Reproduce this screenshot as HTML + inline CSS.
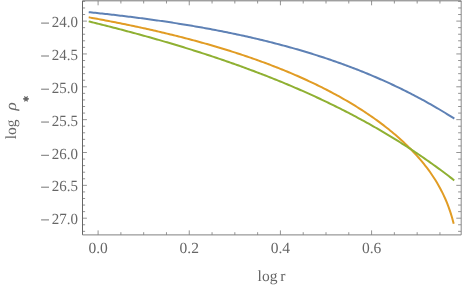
<!DOCTYPE html>
<html><head><meta charset="utf-8"><style>
html,body{margin:0;padding:0;background:#fff;}
svg{display:block}
text{font-family:"Liberation Serif",serif;font-size:15.5px;fill:#666;text-rendering:geometricPrecision}
</style></head><body>
<svg width="463" height="287" viewBox="0 0 463 287">
<rect width="463" height="287" fill="#fff"/>
<g fill="none" stroke-width="2" stroke-linejoin="round">
<path stroke="#5e81b5" d="M88.70,12.18 L90.37,12.35 L92.03,12.52 L93.70,12.69 L95.37,12.86 L97.03,13.04 L98.70,13.21 L100.37,13.39 L102.03,13.57 L103.70,13.75 L105.37,13.93 L107.03,14.11 L108.70,14.30 L110.37,14.48 L112.03,14.67 L113.70,14.86 L115.37,15.05 L117.03,15.24 L118.70,15.44 L120.37,15.64 L122.03,15.83 L123.70,16.03 L125.37,16.23 L127.03,16.44 L128.70,16.64 L130.37,16.85 L132.03,17.05 L133.70,17.26 L135.37,17.48 L137.03,17.69 L138.70,17.90 L140.37,18.12 L142.03,18.34 L143.70,18.56 L145.37,18.78 L147.03,19.01 L148.70,19.23 L150.37,19.46 L152.03,19.69 L153.70,19.92 L155.37,20.16 L157.03,20.39 L158.70,20.63 L160.37,20.87 L162.03,21.11 L163.70,21.36 L165.37,21.60 L167.03,21.85 L168.70,22.10 L170.37,22.35 L172.03,22.61 L173.70,22.87 L175.37,23.12 L177.03,23.38 L178.70,23.65 L180.37,23.91 L182.03,24.18 L183.70,24.45 L185.37,24.72 L187.03,25.00 L188.70,25.27 L190.37,25.55 L192.03,25.84 L193.70,26.12 L195.37,26.41 L197.03,26.69 L198.70,26.99 L200.37,27.28 L202.03,27.58 L203.70,27.87 L205.37,28.18 L207.03,28.48 L208.70,28.79 L210.37,29.09 L212.03,29.41 L213.70,29.72 L215.37,30.04 L217.03,30.36 L218.70,30.68 L220.37,31.00 L222.03,31.33 L223.70,31.66 L225.37,31.99 L227.03,32.33 L228.70,32.67 L230.37,33.01 L232.03,33.36 L233.70,33.70 L235.37,34.05 L237.03,34.41 L238.70,34.76 L240.37,35.12 L242.03,35.49 L243.70,35.85 L245.37,36.22 L247.03,36.59 L248.70,36.97 L250.37,37.34 L252.03,37.73 L253.70,38.11 L255.37,38.50 L257.03,38.89 L258.70,39.28 L260.37,39.68 L262.03,40.08 L263.70,40.49 L265.37,40.89 L267.03,41.30 L268.70,41.72 L270.37,42.14 L272.03,42.56 L273.70,42.98 L275.37,43.41 L277.03,43.85 L278.70,44.28 L280.37,44.72 L282.03,45.17 L283.70,45.61 L285.37,46.06 L287.03,46.52 L288.70,46.98 L290.37,47.44 L292.03,47.91 L293.70,48.38 L295.37,48.85 L297.03,49.33 L298.70,49.81 L300.37,50.30 L302.03,50.79 L303.70,51.29 L305.37,51.79 L307.03,52.29 L308.70,52.80 L310.37,53.31 L312.03,53.82 L313.70,54.35 L315.37,54.87 L317.03,55.40 L318.70,55.93 L320.37,56.47 L322.03,57.01 L323.70,57.56 L325.37,58.11 L327.03,58.67 L328.70,59.23 L330.37,59.80 L332.03,60.37 L333.70,60.95 L335.37,61.53 L337.03,62.11 L338.70,62.70 L340.37,63.30 L342.03,63.90 L343.70,64.51 L345.37,65.12 L347.03,65.73 L348.70,66.35 L350.37,66.98 L352.03,67.61 L353.70,68.25 L355.37,68.89 L357.03,69.54 L358.70,70.19 L360.37,70.85 L362.03,71.52 L363.70,72.19 L365.37,72.86 L367.03,73.54 L368.70,74.23 L370.37,74.92 L372.03,75.62 L373.70,76.33 L375.37,77.04 L377.03,77.76 L378.70,78.48 L380.37,79.21 L382.03,79.94 L383.70,80.69 L385.37,81.43 L387.03,82.19 L388.70,82.95 L390.37,83.71 L392.03,84.49 L393.70,85.27 L395.37,86.05 L397.03,86.85 L398.70,87.65 L400.37,88.45 L402.03,89.27 L403.70,90.09 L405.37,90.91 L407.03,91.75 L408.70,92.59 L410.37,93.44 L412.03,94.29 L413.70,95.16 L415.37,96.03 L417.03,96.90 L418.70,97.79 L420.37,98.68 L422.03,99.58 L423.70,100.49 L425.37,101.40 L427.03,102.33 L428.70,103.26 L430.37,104.19 L432.03,105.14 L433.70,106.10 L435.37,107.06 L437.03,108.03 L438.70,109.01 L440.37,110.00 L442.03,110.99 L443.70,111.99 L445.37,113.01 L447.03,114.03 L448.70,115.06 L450.37,116.10 L452.03,117.14 L453.70,118.20 L454.00,118.39 L454.30,118.58"/>
<path stroke="#e19c24" d="M88.70,17.32 L90.37,17.62 L92.03,17.92 L93.70,18.22 L95.37,18.53 L97.03,18.84 L98.70,19.14 L100.37,19.45 L102.03,19.77 L103.70,20.08 L105.37,20.40 L107.03,20.71 L108.70,21.03 L110.37,21.36 L112.03,21.68 L113.70,22.00 L115.37,22.33 L117.03,22.66 L118.70,22.99 L120.37,23.33 L122.03,23.66 L123.70,24.00 L125.37,24.34 L127.03,24.68 L128.70,25.03 L130.37,25.38 L132.03,25.72 L133.70,26.08 L135.37,26.43 L137.03,26.78 L138.70,27.14 L140.37,27.50 L142.03,27.87 L143.70,28.23 L145.37,28.60 L147.03,28.97 L148.70,29.34 L150.37,29.71 L152.03,30.09 L153.70,30.47 L155.37,30.85 L157.03,31.24 L158.70,31.62 L160.37,32.01 L162.03,32.41 L163.70,32.80 L165.37,33.20 L167.03,33.60 L168.70,34.00 L170.37,34.41 L172.03,34.81 L173.70,35.23 L175.37,35.64 L177.03,36.06 L178.70,36.48 L180.37,36.90 L182.03,37.32 L183.70,37.75 L185.37,38.18 L187.03,38.62 L188.70,39.05 L190.37,39.50 L192.03,39.94 L193.70,40.39 L195.37,40.83 L197.03,41.29 L198.70,41.74 L200.37,42.20 L202.03,42.67 L203.70,43.13 L205.37,43.60 L207.03,44.07 L208.70,44.55 L210.37,45.03 L212.03,45.51 L213.70,46.00 L215.37,46.49 L217.03,46.98 L218.70,47.48 L220.37,47.98 L222.03,48.49 L223.70,48.99 L225.37,49.51 L227.03,50.02 L228.70,50.54 L230.37,51.07 L232.03,51.59 L233.70,52.13 L235.37,52.66 L237.03,53.20 L238.70,53.75 L240.37,54.29 L242.03,54.85 L243.70,55.40 L245.37,55.96 L247.03,56.53 L248.70,57.10 L250.37,57.67 L252.03,58.25 L253.70,58.83 L255.37,59.42 L257.03,60.01 L258.70,60.61 L260.37,61.21 L262.03,61.82 L263.70,62.43 L265.37,63.05 L267.03,63.67 L268.70,64.30 L270.37,64.93 L272.03,65.57 L273.70,66.21 L275.37,66.86 L277.03,67.51 L278.70,68.17 L280.37,68.83 L282.03,69.50 L283.70,70.18 L285.37,70.86 L287.03,71.54 L288.70,72.24 L290.37,72.94 L292.03,73.64 L293.70,74.35 L295.37,75.07 L297.03,75.79 L298.70,76.52 L300.37,77.26 L302.03,78.00 L303.70,78.75 L305.37,79.51 L307.03,80.27 L308.70,81.04 L310.37,81.82 L312.03,82.60 L313.70,83.39 L315.37,84.19 L317.03,85.00 L318.70,85.82 L320.37,86.64 L322.03,87.47 L323.70,88.31 L325.37,89.15 L327.03,90.01 L328.70,90.87 L330.37,91.74 L332.03,92.62 L333.70,93.51 L335.37,94.41 L337.03,95.32 L338.70,96.23 L340.37,97.16 L342.03,98.10 L343.70,99.04 L345.37,100.00 L347.03,100.97 L348.70,101.94 L350.37,102.93 L352.03,103.93 L353.70,104.94 L355.37,105.96 L357.03,107.00 L358.70,108.04 L360.37,109.10 L362.03,110.17 L363.70,111.26 L365.37,112.35 L367.03,113.46 L368.70,114.59 L370.37,115.72 L372.03,116.88 L373.70,118.05 L375.37,119.23 L377.03,120.43 L378.70,121.65 L380.37,122.88 L382.03,124.13 L383.70,125.40 L385.37,126.69 L387.03,127.99 L388.70,129.32 L390.37,130.66 L392.03,132.03 L393.70,133.42 L395.37,134.84 L397.03,136.28 L398.70,137.74 L400.37,139.23 L402.03,140.74 L403.70,142.29 L405.37,143.86 L407.03,145.47 L408.70,147.11 L410.37,148.78 L412.03,150.49 L413.70,152.24 L415.37,154.03 L417.03,155.86 L418.70,157.74 L420.37,159.67 L422.03,161.65 L423.70,163.70 L425.37,165.80 L427.03,167.97 L428.70,170.21 L430.37,172.53 L432.03,174.95 L433.70,177.45 L435.37,180.07 L437.03,182.81 L438.70,185.68 L440.37,188.71 L442.03,191.92 L443.70,195.34 L445.37,199.01 L447.03,202.98 L448.70,207.31 L450.37,212.10 L452.03,217.49 L453.70,223.68"/>
<path stroke="#8fb032" d="M88.70,21.38 L90.37,21.79 L92.03,22.20 L93.70,22.61 L95.37,23.02 L97.03,23.44 L98.70,23.85 L100.37,24.27 L102.03,24.69 L103.70,25.11 L105.37,25.53 L107.03,25.95 L108.70,26.38 L110.37,26.81 L112.03,27.23 L113.70,27.66 L115.37,28.09 L117.03,28.53 L118.70,28.96 L120.37,29.40 L122.03,29.83 L123.70,30.27 L125.37,30.71 L127.03,31.16 L128.70,31.60 L130.37,32.05 L132.03,32.50 L133.70,32.94 L135.37,33.40 L137.03,33.85 L138.70,34.30 L140.37,34.76 L142.03,35.22 L143.70,35.68 L145.37,36.14 L147.03,36.61 L148.70,37.07 L150.37,37.54 L152.03,38.01 L153.70,38.48 L155.37,38.96 L157.03,39.43 L158.70,39.91 L160.37,40.39 L162.03,40.87 L163.70,41.35 L165.37,41.84 L167.03,42.33 L168.70,42.82 L170.37,43.31 L172.03,43.81 L173.70,44.30 L175.37,44.80 L177.03,45.30 L178.70,45.80 L180.37,46.31 L182.03,46.82 L183.70,47.33 L185.37,47.84 L187.03,48.35 L188.70,48.87 L190.37,49.39 L192.03,49.91 L193.70,50.43 L195.37,50.96 L197.03,51.49 L198.70,52.02 L200.37,52.55 L202.03,53.09 L203.70,53.63 L205.37,54.17 L207.03,54.71 L208.70,55.26 L210.37,55.81 L212.03,56.36 L213.70,56.91 L215.37,57.47 L217.03,58.03 L218.70,58.59 L220.37,59.16 L222.03,59.72 L223.70,60.29 L225.37,60.87 L227.03,61.44 L228.70,62.02 L230.37,62.60 L232.03,63.19 L233.70,63.78 L235.37,64.37 L237.03,64.96 L238.70,65.56 L240.37,66.15 L242.03,66.76 L243.70,67.36 L245.37,67.97 L247.03,68.58 L248.70,69.20 L250.37,69.82 L252.03,70.44 L253.70,71.06 L255.37,71.69 L257.03,72.32 L258.70,72.95 L260.37,73.59 L262.03,74.23 L263.70,74.88 L265.37,75.52 L267.03,76.17 L268.70,76.83 L270.37,77.49 L272.03,78.15 L273.70,78.81 L275.37,79.48 L277.03,80.16 L278.70,80.83 L280.37,81.51 L282.03,82.19 L283.70,82.88 L285.37,83.57 L287.03,84.27 L288.70,84.97 L290.37,85.67 L292.03,86.38 L293.70,87.09 L295.37,87.80 L297.03,88.52 L298.70,89.24 L300.37,89.97 L302.03,90.70 L303.70,91.43 L305.37,92.17 L307.03,92.92 L308.70,93.66 L310.37,94.41 L312.03,95.17 L313.70,95.93 L315.37,96.70 L317.03,97.47 L318.70,98.24 L320.37,99.02 L322.03,99.80 L323.70,100.59 L325.37,101.38 L327.03,102.18 L328.70,102.98 L330.37,103.78 L332.03,104.60 L333.70,105.41 L335.37,106.23 L337.03,107.06 L338.70,107.89 L340.37,108.72 L342.03,109.56 L343.70,110.41 L345.37,111.26 L347.03,112.12 L348.70,112.98 L350.37,113.84 L352.03,114.72 L353.70,115.59 L355.37,116.47 L357.03,117.36 L358.70,118.26 L360.37,119.15 L362.03,120.06 L363.70,120.97 L365.37,121.89 L367.03,122.81 L368.70,123.73 L370.37,124.67 L372.03,125.61 L373.70,126.55 L375.37,127.50 L377.03,128.46 L378.70,129.42 L380.37,130.39 L382.03,131.36 L383.70,132.35 L385.37,133.33 L387.03,134.33 L388.70,135.33 L390.37,136.33 L392.03,137.35 L393.70,138.37 L395.37,139.39 L397.03,140.43 L398.70,141.47 L400.37,142.51 L402.03,143.57 L403.70,144.63 L405.37,145.69 L407.03,146.77 L408.70,147.85 L410.37,148.94 L412.03,150.03 L413.70,151.13 L415.37,152.24 L417.03,153.36 L418.70,154.49 L420.37,155.62 L422.03,156.76 L423.70,157.91 L425.37,159.06 L427.03,160.22 L428.70,161.39 L430.37,162.57 L432.03,163.76 L433.70,164.95 L435.37,166.16 L437.03,167.37 L438.70,168.58 L440.37,169.81 L442.03,171.05 L443.70,172.29 L445.37,173.54 L447.03,174.80 L448.70,176.07 L450.37,177.35 L452.03,178.64 L453.70,179.93 L454.00,180.17 L454.30,180.40"/>
</g>
<path d="M82.5,231.34h2.6 M461.2,231.34h-3.10 M82.5,224.77h2.6 M461.2,224.77h-3.10 M82.5,218.20h4.4 M461.2,218.20h-4.90 M82.5,211.63h2.6 M461.2,211.63h-3.10 M82.5,205.06h2.6 M461.2,205.06h-3.10 M82.5,198.49h2.6 M461.2,198.49h-3.10 M82.5,191.92h2.6 M461.2,191.92h-3.10 M82.5,185.35h4.4 M461.2,185.35h-4.90 M82.5,178.78h2.6 M461.2,178.78h-3.10 M82.5,172.21h2.6 M461.2,172.21h-3.10 M82.5,165.64h2.6 M461.2,165.64h-3.10 M82.5,159.07h2.6 M461.2,159.07h-3.10 M82.5,152.50h4.4 M461.2,152.50h-4.90 M82.5,145.93h2.6 M461.2,145.93h-3.10 M82.5,139.36h2.6 M461.2,139.36h-3.10 M82.5,132.79h2.6 M461.2,132.79h-3.10 M82.5,126.22h2.6 M461.2,126.22h-3.10 M82.5,119.65h4.4 M461.2,119.65h-4.90 M82.5,113.08h2.6 M461.2,113.08h-3.10 M82.5,106.51h2.6 M461.2,106.51h-3.10 M82.5,99.94h2.6 M461.2,99.94h-3.10 M82.5,93.37h2.6 M461.2,93.37h-3.10 M82.5,86.80h4.4 M461.2,86.80h-4.90 M82.5,80.23h2.6 M461.2,80.23h-3.10 M82.5,73.66h2.6 M461.2,73.66h-3.10 M82.5,67.09h2.6 M461.2,67.09h-3.10 M82.5,60.52h2.6 M461.2,60.52h-3.10 M82.5,53.95h4.4 M461.2,53.95h-4.90 M82.5,47.38h2.6 M461.2,47.38h-3.10 M82.5,40.81h2.6 M461.2,40.81h-3.10 M82.5,34.24h2.6 M461.2,34.24h-3.10 M82.5,27.67h2.6 M461.2,27.67h-3.10 M82.5,21.10h4.4 M461.2,21.10h-4.90 M82.5,14.53h2.6 M461.2,14.53h-3.10 M82.5,7.96h2.6 M461.2,7.96h-3.10 M82.5,1.39h2.6 M461.2,1.39h-3.10 M98.10,234.9v-4.5 M98.10,0.8v4.5 M120.89,234.9v-2.7 M120.89,0.8v2.7 M143.68,234.9v-2.7 M143.68,0.8v2.7 M166.47,234.9v-2.7 M166.47,0.8v2.7 M189.26,234.9v-4.5 M189.26,0.8v4.5 M212.05,234.9v-2.7 M212.05,0.8v2.7 M234.84,234.9v-2.7 M234.84,0.8v2.7 M257.63,234.9v-2.7 M257.63,0.8v2.7 M280.42,234.9v-4.5 M280.42,0.8v4.5 M303.21,234.9v-2.7 M303.21,0.8v2.7 M326.00,234.9v-2.7 M326.00,0.8v2.7 M348.79,234.9v-2.7 M348.79,0.8v2.7 M371.58,234.9v-4.5 M371.58,0.8v4.5 M394.37,234.9v-2.7 M394.37,0.8v2.7 M417.16,234.9v-2.7 M417.16,0.8v2.7 M439.95,234.9v-2.7 M439.95,0.8v2.7" stroke="#666" stroke-width="0.7" fill="none"/>
<path d="M82.5,0.8V234.9" stroke="#666" stroke-width="1" fill="none"/>
<path d="M82.5,234.9H461.2" stroke="#808080" stroke-width="1" fill="none"/>
<path d="M461.2,234.9V0.8" stroke="#888" stroke-width="1" fill="none"/>
<path d="M461.2,0.8H82.5" stroke="#777" stroke-width="1" fill="none"/>
<g style="filter:grayscale(1)">
<text transform="translate(77.9,26.70) scale(0.965,1)" text-anchor="end">24.0</text><path d="M41.1,23.10h7.9" stroke="#666" stroke-width="0.9" fill="none"/>
<text transform="translate(77.9,59.60) scale(0.965,1)" text-anchor="end">24.5</text><path d="M41.1,56.00h7.9" stroke="#666" stroke-width="0.9" fill="none"/>
<text transform="translate(77.9,92.80) scale(0.965,1)" text-anchor="end">25.0</text><path d="M41.1,89.20h7.9" stroke="#666" stroke-width="0.9" fill="none"/>
<text transform="translate(77.9,125.65) scale(0.965,1)" text-anchor="end">25.5</text><path d="M41.1,122.05h7.9" stroke="#666" stroke-width="0.9" fill="none"/>
<text transform="translate(77.9,158.90) scale(0.965,1)" text-anchor="end">26.0</text><path d="M41.1,155.30h7.9" stroke="#666" stroke-width="0.9" fill="none"/>
<text transform="translate(77.9,190.80) scale(0.965,1)" text-anchor="end">26.5</text><path d="M41.1,187.20h7.9" stroke="#666" stroke-width="0.9" fill="none"/>
<text transform="translate(77.9,223.50) scale(0.965,1)" text-anchor="end">27.0</text><path d="M41.1,219.90h7.9" stroke="#666" stroke-width="0.9" fill="none"/>
<text x="98.10" y="253.45" text-anchor="middle">0.0</text>
<text x="189.26" y="253.45" text-anchor="middle">0.2</text>
<text x="280.42" y="253.45" text-anchor="middle">0.4</text>
<text x="371.58" y="253.45" text-anchor="middle">0.6</text>
<text x="271.5" y="280.8" text-anchor="middle" style="word-spacing:-1px">log r</text>
<text transform="translate(15.6,139.3) rotate(-90)" x="0" y="0">log</text>
<text transform="translate(15.5,110.4) rotate(-90) scale(1.1,1)" x="0" y="0" font-style="italic">&#961;</text>
<g transform="translate(26.0,98.9)" stroke="#666" stroke-width="1.1" stroke-linecap="butt"><circle r="1.9" fill="#666" stroke="none"/><path d="M-3,0H3 M-1.5,-2.6L1.5,2.6 M1.5,-2.6L-1.5,2.6"/></g>
</g>
</svg>
</body></html>
